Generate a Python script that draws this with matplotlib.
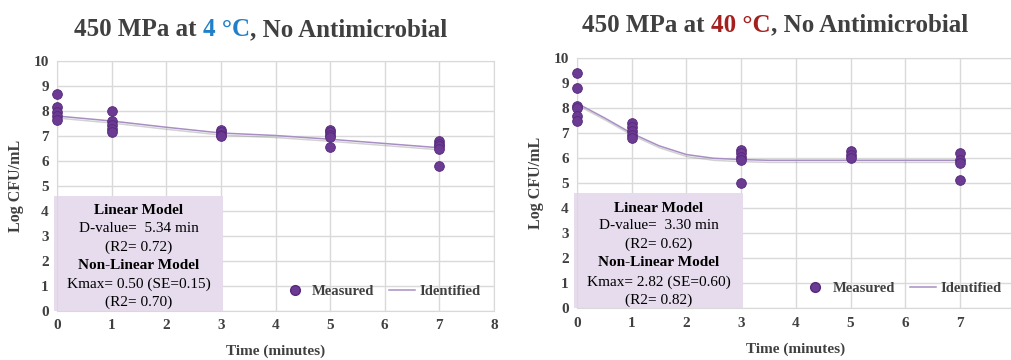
import matplotlib
matplotlib.use("Agg")
import matplotlib.pyplot as plt
from matplotlib.patches import Rectangle
from matplotlib.lines import Line2D
import matplotlib.patheffects as pe

# ---------------- data ----------------
left_times = [0, 1, 3, 5, 7]
left_measured = [
    [8.7, 8.15, 7.95, 7.8, 7.65],
    [8.0, 7.6, 7.45, 7.3, 7.15],
    [7.25, 7.15, 7.05, 7.0],
    [7.25, 7.15, 7.05, 6.95, 6.55],
    [6.8, 6.7, 6.6, 6.5, 5.8],
]
left_fit_t = [0, 1, 2, 3, 4, 5, 6, 7]
left_fit_y = [7.8, 7.6, 7.35, 7.12, 7.02, 6.87, 6.7, 6.53]

right_times = [0, 1, 3, 5, 7]
right_measured = [
    [9.4, 8.8, 8.1, 8.0, 7.7, 7.5],
    [7.4, 7.25, 7.1, 6.95, 6.8],
    [6.35, 6.2, 6.05, 5.95, 5.0],
    [6.3, 6.15, 6.0],
    [6.2, 5.95, 5.8, 5.15],
]
right_fit_t = [0, 0.5, 1, 1.5, 2, 2.5, 3, 3.5, 4, 5, 6, 7]
right_fit_y = [8.2, 7.62, 7.0, 6.5, 6.15, 6.0, 5.95, 5.92, 5.92, 5.92, 5.92, 5.92]

left_xticks = [0, 1, 2, 3, 4, 5, 6, 7, 8]
right_xticks = [0, 1, 2, 3, 4, 5, 6, 7]

left_title = ["450 MPa at ", "4 \u00b0C", ", No Antimicrobial"]
right_title = ["450 MPa at ", "40 \u00b0C", ", No Antimicrobial"]
left_box = ["Linear Model", "D-value=  5.34 min", "(R2= 0.72)",
            "Non-Linear Model", "Kmax= 0.50 (SE=0.15)", "(R2= 0.70)"]
right_box = ["Linear Model", "D-value=  3.30 min", "(R2= 0.62)",
             "Non-Linear Model", "Kmax= 2.82 (SE=0.60)", "(R2= 0.82)"]
box_bold = [True, False, False, True, False, False]

# ---------------- style ----------------
SERIF = ["Liberation Serif", "DejaVu Serif"]
TXT = "#404040"
PURPLE = "#6b3a92"
LINEC = "#a88ec4"
GRID = "#d9d9d9"
BOXC = "#e6dced"

fig = plt.figure(figsize=(10.11, 3.6), dpi=100)

def make_panel(rect, times, measured, ft, fy, xticks, box_lines, title_parts,
               title_color, title_xy):
    ax = fig.add_axes(rect)
    ax.set_xlim(0, 8)
    ax.set_ylim(0, 10)
    ax.set_xticks(xticks)
    ax.set_yticks(range(0, 11))
    ax.grid(True, color=GRID, lw=1)
    ax.set_axisbelow(True)
    for s in ax.spines.values():
        s.set_color(GRID)
    ax.tick_params(length=0, pad=6, labelsize=11, colors=TXT)
    for lab in ax.get_xticklabels() + ax.get_yticklabels():
        lab.set_family(SERIF)
        lab.set_fontweight("bold")
    # box
    ax.add_patch(Rectangle((-0.05, 0), 3.08, 4.62, facecolor=BOXC,
                           edgecolor="none", zorder=1.5, clip_on=False))
    ys = [4.0, 3.3, 2.55, 1.82, 1.06, 0.34]
    for txt, y, b in zip(box_lines, ys, box_bold):
        ax.text(1.5, y, txt, ha="center", va="center", fontsize=11,
                family=SERIF, fontweight="bold" if b else "normal",
                color="black", zorder=3)
    # fit line
    ax.plot(ft, fy, color=LINEC, lw=1.1, zorder=3,
            path_effects=[pe.SimpleLineShadow(offset=(0.5, -1.5),
                                              shadow_color="gray", alpha=0.35),
                          pe.Normal()])
    # points
    for t, vals in zip(times, measured):
        ax.plot([t] * len(vals), vals, "o", ms=7, color=PURPLE,
                mec="#56287a", mew=0.6, zorder=4, clip_on=False)
    # legend
    h1 = Line2D([], [], marker="o", ls="none", ms=7, color=PURPLE, mec="#56287a")
    h2 = Line2D([], [], color=LINEC, lw=1.1)
    leg = ax.legend([h1, h2], ["Measured", "Identified"], loc="lower right",
                    ncol=2, frameon=False, handlelength=1.8, handletextpad=0.3,
                    columnspacing=1.0, bbox_to_anchor=(1.0, 0.0),
                    prop={"family": SERIF, "weight": "bold", "size": 10.5})
    for t in leg.get_texts():
        t.set_color(TXT)
    ax.set_xlabel("Time (minutes)", family=SERIF, fontweight="bold",
                  fontsize=11, color=TXT)
    ax.xaxis.set_label_coords(0.5, -0.135)
    ax.set_ylabel("Log CFU/mL", family=SERIF, fontweight="bold",
                  fontsize=11.5, color=TXT)
    ax.yaxis.set_label_coords(-0.076, 0.5)
    # title (multi-colour)
    colors = [TXT, title_color, TXT]
    fig.canvas.draw()
    r = fig.canvas.get_renderer()
    tmp = [fig.text(0, 0, p, fontsize=18, family=SERIF, fontweight="bold")
           for p in title_parts]
    widths = [t.get_window_extent(r).width for t in tmp]
    for t in tmp:
        t.remove()
    total = sum(widths)
    x0 = title_xy[0] - total / 2
    W, H = fig.bbox.width, fig.bbox.height
    for p, c, w in zip(title_parts, colors, widths):
        fig.text(x0 / W, 1 - title_xy[1] / H, p, fontsize=18, family=SERIF,
                 fontweight="bold", color=c, ha="left", va="center")
        x0 += w
    return ax

make_panel([57 / 1011, 1 - 311 / 360, 437 / 1011, 250 / 360],
           left_times, left_measured, left_fit_t, left_fit_y, left_xticks,
           left_box, left_title, "#1f7fc8", (261, 30))
make_panel([577 / 1011, 1 - 308.3 / 360, 437.6 / 1011, 250 / 360],
           right_times, right_measured, right_fit_t, right_fit_y, right_xticks,
           right_box, right_title, "#a3201e", (775, 25))

fig.savefig("out.png", dpi=100)
